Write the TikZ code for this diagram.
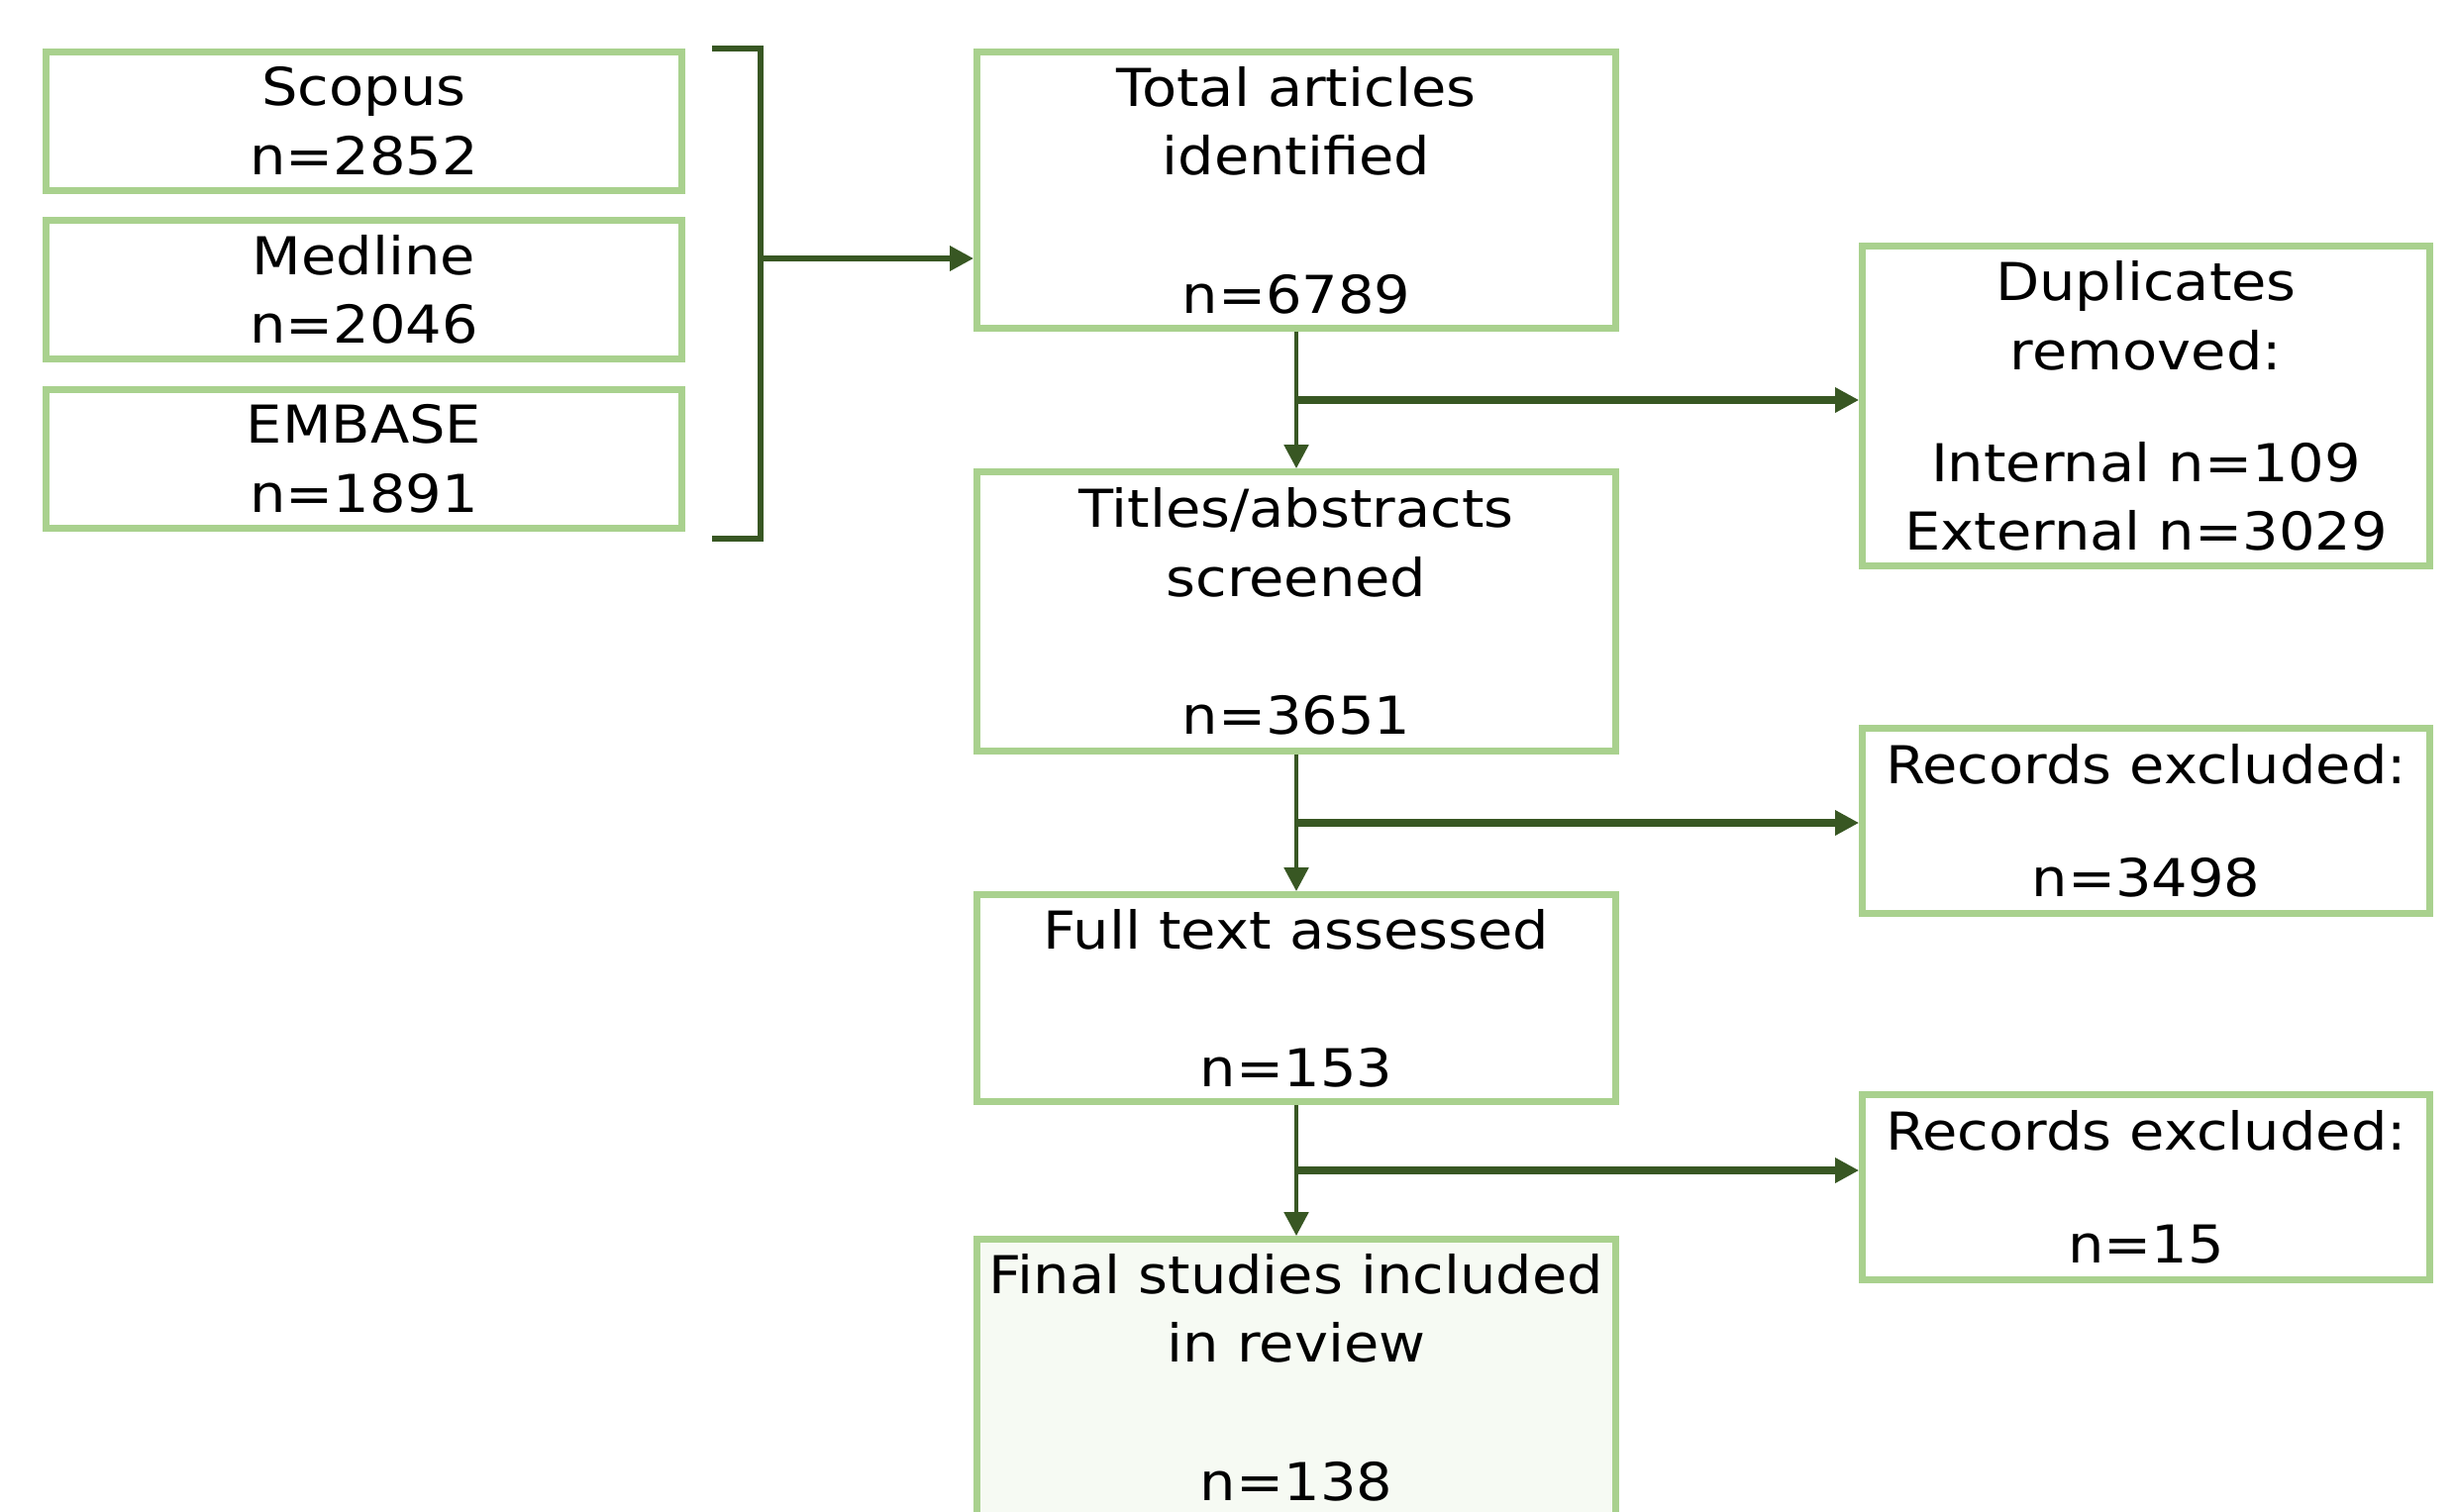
\documentclass[tikz,border=0pt]{standalone}
\usepackage{fontspec}
\setmainfont{DejaVu Sans}[FakeStretch=1.09]
\usetikzlibrary{positioning,arrows.meta,calc}
\definecolor{boxdraw}{RGB}{169,209,142}
\definecolor{arrowc}{RGB}{56,87,35}
\definecolor{finalfill}{RGB}{246,250,243}

\begin{document}
\begin{tikzpicture}[
  box/.style={draw=boxdraw, line width=1.9pt, fill=white, align=center, inner sep=0pt, font=\fontsize{15}{19.8}\selectfont},
  srcbox/.style={box, minimum width=6.42cm, minimum height=1.40cm},
  mainbox/.style={box, minimum width=6.45cm},
  sidebox/.style={box, minimum width=5.73cm},
  arr/.style={-{Triangle[length=0.24cm,width=0.24cm]}, line width=1.4pt, arrowc},
  brk/.style={line width=1.9pt, arrowc},
]
\useasboundingbox (0,0) rectangle (24.79,-15.27);

% ============ sources ============
\node[srcbox] (scopus)  at (3.675,-1.225) {Scopus\\n=2852};
\node[srcbox] (medline) at (3.675,-2.925) {Medline\\n=2046};
\node[srcbox] (embase)  at (3.675,-4.635) {EMBASE\\n=1891};

\coordinate (brtop) at (7.68,-0.49);
\coordinate (brbot) at (7.68,-5.44);
\coordinate (brmid) at (7.68,-2.61);
\draw[brk] ($(brtop)+(-0.49,0)$) -- (brtop) -- (brbot) -- ($(brbot)+(-0.49,0)$);

% ============ main column ============
\node[mainbox, minimum height=2.79cm] (total) at (13.09,-1.92)
  {Total articles\\identified\\[\baselineskip]n=6789};
\node[mainbox, minimum height=2.82cm] (titles) at (13.09,-6.175)
  {Titles/abstracts\\screened\\[\baselineskip]n=3651};
\node[mainbox, minimum height=2.09cm] (fulltext) at (13.09,-10.08)
  {Full text assessed\\[\baselineskip]n=153};
\node[mainbox, minimum height=2.79cm, fill=finalfill] (final) at (13.09,-13.91)
  {Final studies included\\in review\\[\baselineskip]n=138};

% ============ exclusions ============
\node[sidebox, minimum height=3.23cm] (dups) at (21.67,-4.10)
  {Duplicates\\removed:\\[0.62\baselineskip]Internal n=109\\External n=3029};
\node[sidebox, minimum height=1.87cm] (excl1) at (21.67,-8.29)
  {Records excluded:\\[0.64\baselineskip]n=3498};
\node[sidebox, minimum height=1.87cm] (excl2) at (21.67,-11.99)
  {Records excluded:\\[0.64\baselineskip]n=15};

\coordinate (b1) at ($(total.south)!0.5!(titles.north)$);
\coordinate (b2) at ($(titles.south)!0.5!(fulltext.north)$);
\coordinate (b3) at ($(fulltext.south)!0.5!(final.north)$);

\draw[arr, line width=1.9pt] (brmid) -- (brmid -| total.west);
\draw[arr] (total) -- (titles);
\draw[arr] (titles) -- (fulltext);
\draw[arr] (fulltext) -- (final);
\draw[arr, line width=2pt] (b1) -- (b1 -| dups.west);
\draw[arr, line width=2pt] (b2) -- (b2 -| excl1.west);
\draw[arr, line width=2pt] (b3) -- (b3 -| excl2.west);
\end{tikzpicture}
\end{document}
